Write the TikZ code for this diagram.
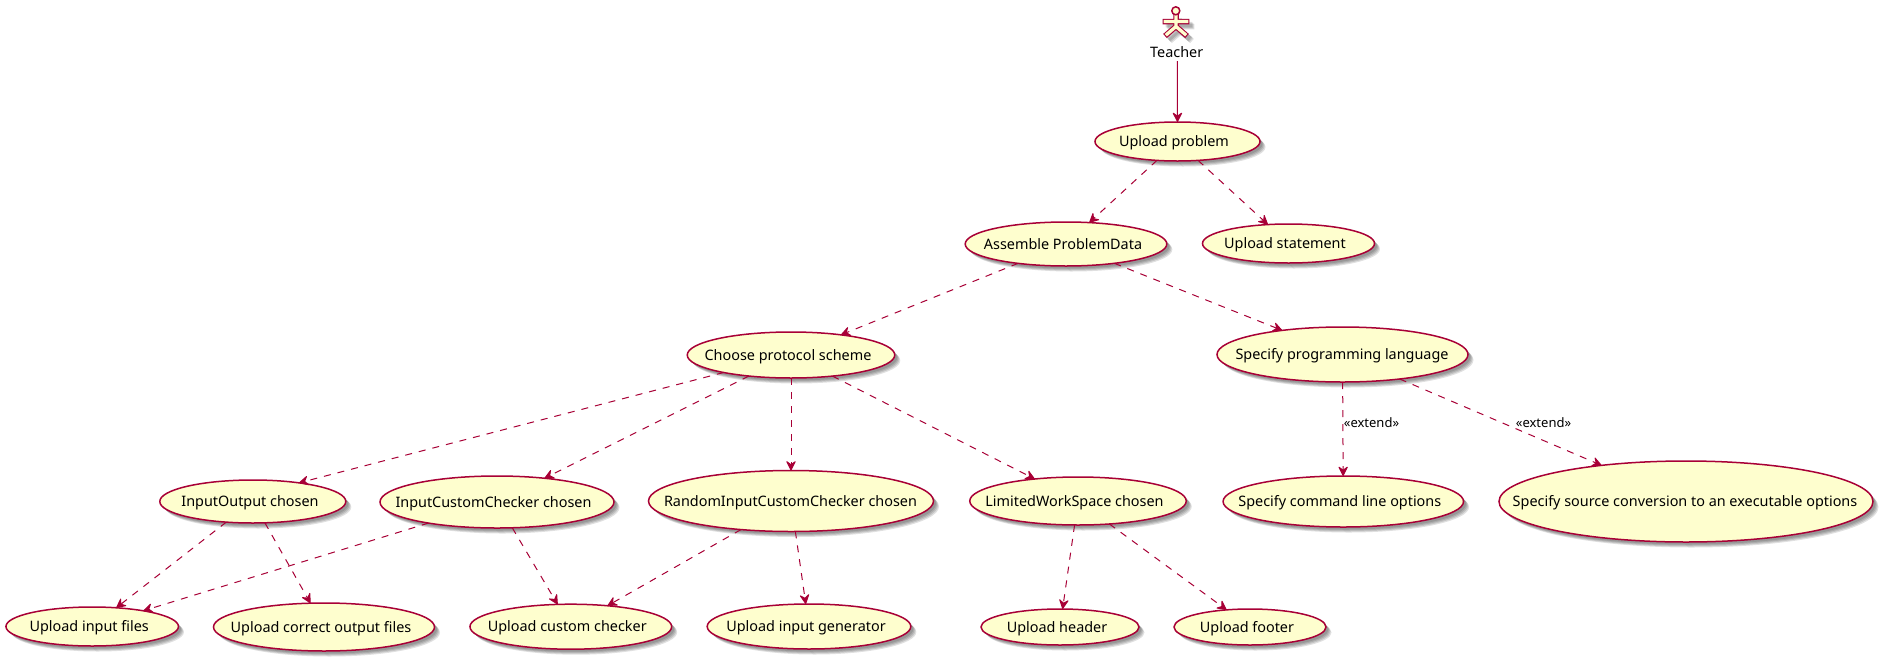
\documentclass[tikz,border=0pt]{standalone}
\usepackage{fontspec}
\setmainfont{Noto Sans}
\usetikzlibrary{shapes.geometric,arrows.meta}
\definecolor{umlred}{HTML}{A80036}
\definecolor{umlfill}{HTML}{FEFECE}
\newcommand{\uctext}[2]{\raisebox{-.36em}[0pt][0pt]{\kern#1pt\makebox[0pt]{#2}\kern-#1pt}}
\tikzset{
  x=1pt,y=-1pt,
  softshadow/.style={preaction={fill=black,opacity=.12,transform canvas={shift={(#1pt,-#1pt)}}}},
  usecase/.style n args={3}{at={(#1)},ellipse,draw=umlred,fill=umlfill,line width=1.5pt,inner sep=0pt,outer sep=0pt,
    minimum width=#2pt,minimum height=#3pt,font=\fontsize{14.4}{16}\selectfont,text=black,
    softshadow=2.5,softshadow=3.5,softshadow=4.5,softshadow=5.5},
  solidlink/.style={draw=umlred,line width=1pt,-{Stealth[length=11pt,width=11pt,inset=4pt,round]}},
  dashlink/.style={solidlink,dash pattern=on 7pt off 7pt},
  linklabel/.style={font=\fontsize{13}{15}\selectfont,text=black,inner sep=0pt},
  actorlabel/.style={font=\fontsize{14.4}{16}\selectfont,text=black,inner sep=0pt},
}
\begin{document}
\begin{tikzpicture}
\useasboundingbox (0,0) rectangle (1883,662);
\fill[white] (0,0) rectangle (1883,662);
% actor
\foreach \dx in {3,4,5}{
  \draw[black,opacity=.12,line width=5.5pt,line join=miter,transform canvas={shift={(\dx pt,-\dx pt)}}]
    (1176,15)--(1176,27) (1162.7,21.5)--(1189.3,21.5) (1165,36)--(1176,26.5)--(1187,36);
}
\draw[umlred,line width=5.5pt,line join=miter]
  (1176,14)--(1176,27) (1162.7,21.5)--(1189.3,21.5) (1165,36)--(1176,26.5)--(1187,36);
\draw[umlfill,line width=3.3pt,line join=miter]
  (1176,13)--(1176,27) (1163.7,21.5)--(1188.3,21.5) (1165.8,35.2)--(1176,26.5)--(1186.2,35.2);
\draw[umlred,fill=umlfill,line width=1.5pt] (1175.8,10.8) circle (4);
\node[actorlabel] (teacher) at (1176.7,52) {Teacher};
\coordinate (teacherout) at (1177.3,61);
% use cases
\node[usecase={1177.5,141.5}{165}{39}] (problem) {\uctext{-3.5}{Upload problem}};
\node[usecase={1288.5,243.5}{172}{39}] (statement) {\uctext{-3.5}{Upload statement}};
\node[usecase={1066,244}{201.6}{44}] (assemble) {\uctext{-3}{Assemble ProblemData}};
\node[usecase={791,355}{207.5}{46}] (choose) {\uctext{-3}{Choose protocol scheme}};
\node[usecase={1342.5,354.5}{251}{55}] (lang) {\uctext{-.5}{Specify programming language}};
\node[usecase={252.8,501.5}{186}{43}] (io) {\uctext{-2.8}{InputOutput chosen}};
\node[usecase={497,502}{234}{52}] (icc) {\uctext{-3.5}{InputCustomChecker chosen}};
\node[usecase={791,501}{285}{61}] (ricc) {\uctext{-.5}{RandomInputCustomChecker chosen}};
\node[usecase={1078,501}{216.5}{48}] (lws) {\uctext{-3.5}{LimitedWorkSpace chosen}};
\node[usecase={1343.3,501.5}{240.5}{51}] (cmd) {\uctext{-3.5}{Specify command line options}};
\node[usecase={1686,501.5}{374}{81}] (conv) {\uctext{-1}{Specify source conversion to an executable options}};
\node[usecase={92.2,626.5}{172.5}{39}] (inputs) {\uctext{-3}{Upload input files}};
\node[usecase={324,627}{221}{48}] (outputs) {\uctext{-3}{Upload correct output files}};
\node[usecase={570.8,626.7}{201.7}{45}] (checker) {\uctext{-3.5}{Upload custom checker}};
\node[usecase={809,626.5}{203.6}{45}] (generator) {\uctext{-3}{Upload input generator}};
\node[usecase={1060,627}{158}{36}] (header) {\uctext{-3}{Upload header}};
\node[usecase={1250,627}{152}{36}] (footer) {\uctext{-3}{Upload footer}};
% labels
\node[linklabel] (ext1) at (1371.5,423) {«extend»};
\node[linklabel] (ext2) at (1543.5,423) {«extend»};
% connectors
\draw[solidlink] (teacherout) -- (problem);
\draw[dashlink] (problem) -- (assemble);
\draw[dashlink] (problem) -- (statement);
\draw[dashlink] (assemble) -- (choose);
\draw[dashlink] (assemble) -- (lang);
\draw[dashlink] (choose) -- (io.22);
\draw[dashlink] (choose) -- (icc);
\draw[dashlink] (choose) -- (ricc);
\draw[dashlink] (choose) -- (lws);
\draw[dashlink] (lang) -- (cmd);
\draw[dashlink] (lang) -- (conv);
\draw[dashlink] (io) -- (inputs);
\draw[dashlink] (io) -- (outputs);
\draw[dashlink] (icc) -- (inputs);
\draw[dashlink] (icc) -- (checker);
\draw[dashlink] (ricc) -- (checker);
\draw[dashlink] (ricc) -- (generator);
\draw[dashlink] (lws) -- (header);
\draw[dashlink] (lws) -- (footer);
\end{tikzpicture}
\end{document}
